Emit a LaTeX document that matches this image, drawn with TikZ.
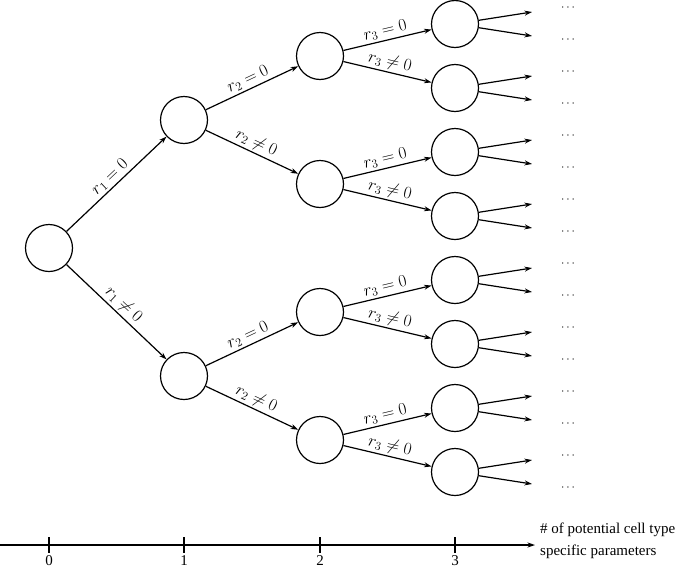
\documentclass[tikz,border=0pt]{standalone}
\usepackage{fontspec}
\setmainfont{Liberation Serif}
\usetikzlibrary{arrows.meta}
\begin{document}
\begin{tikzpicture}[x=1pt,y=-1pt,
  st/.style={circle,draw,line width=1.2pt,minimum size=47pt,inner sep=0pt},
  edge/.style={line width=1.2pt,-{Stealth[length=7.5pt,width=5pt]}},
  lab/.style={sloped,above,midway,inner sep=2pt,font=\fontsize{16.5}{19}\selectfont},
  dotsn/.style={font=\fontsize{12.5}{14}\selectfont,inner sep=0pt},
  axtxt/.style={font=\fontsize{15}{18}\selectfont}]
\useasboundingbox (0,0) rectangle (680,568);
\node[st] (a) at (49,248) {};
\node[st] (b0) at (184,120) {};
\node[st] (b1) at (184,376) {};
\foreach \j in {0,...,3}{\node[st] (c\j) at (320,56+128*\j) {};}
\foreach \k in {0,...,7}{\node[st] (d\k) at (455,24+64*\k) {};}
\draw[edge] (a) -- node[lab] {$r_1=0$} (b0);
\draw[edge] (a) -- node[lab] {$r_1\neq 0$} (b1);
\foreach \i in {0,1}{
  \pgfmathtruncatemacro{\ca}{2*\i}\pgfmathtruncatemacro{\cb}{2*\i+1}
  \draw[edge] (b\i) -- node[lab] {$r_2=0$} (c\ca);
  \draw[edge] (b\i) -- node[lab] {$r_2\neq 0$} (c\cb);
}
\foreach \j in {0,...,3}{
  \pgfmathtruncatemacro{\da}{2*\j}\pgfmathtruncatemacro{\db}{2*\j+1}
  \draw[edge] (c\j) -- node[lab] {$r_3=0$} (d\da);
  \draw[edge] (c\j) -- node[lab] {$r_3\neq 0$} (d\db);
}
\foreach \k in {0,...,7}{
  \coordinate (u\k) at (532,12+64*\k);
  \coordinate (v\k) at (532,36+64*\k);
  \draw[edge] (d\k) -- (u\k);
  \draw[edge] (d\k) -- (v\k);
  \node[dotsn] (p\k) at (568,8+64*\k) {$\cdots$};
  \node[dotsn] (q\k) at (568,40+64*\k) {$\cdots$};
}
\coordinate (ax0) at (0,545);
\coordinate (ax1) at (535,545);
\draw[edge] (ax0) -- (ax1);
\foreach \x/\n in {49/0,184/1,320/2,455/3}{
  \draw[line width=1.2pt] (\x,537) -- (\x,553);
  \node[axtxt,anchor=north,inner sep=0pt] (t\n) at (\x,555) {\n};
}
\node[axtxt,anchor=west,inner sep=0pt] (lab1) at (540,530) {\# of potential cell type};
\node[axtxt,anchor=west,inner sep=0pt] (lab2) at (540,552) {specific parameters};
\end{tikzpicture}
\end{document}
